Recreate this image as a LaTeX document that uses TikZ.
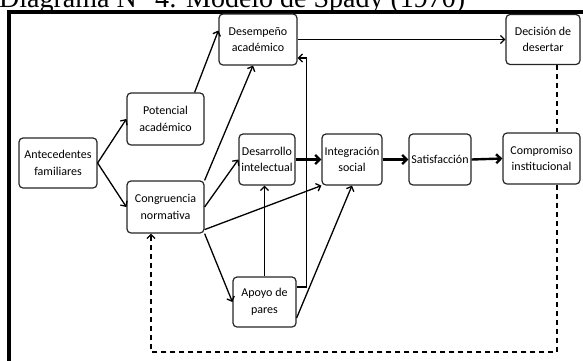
\documentclass[tikz,border=0pt]{standalone}
\usepackage{fontspec}
\setmainfont{Carlito}
\newfontfamily\titulo{Liberation Serif}
\usepackage{tikz}
\usetikzlibrary{positioning, arrows.meta}

\begin{document}
\begin{tikzpicture}[x=1pt, y=-1pt,
    caja/.style={rectangle, rounded corners=4pt, draw=black!85, line width=1.2pt, fill=white, align=center, inner sep=2pt, font={\fontsize{12}{16.5}\selectfont}},
    flecha/.style={-{Straight Barb[length=4pt,width=8pt]}, line width=1.3pt},
    gruesa/.style={-{Straight Barb[length=4.5pt,width=9pt]}, line width=2.4pt},
    discont/.style={line width=1.3pt, dash pattern=on 5pt off 4pt},
    ]
    \useasboundingbox (0,0) rectangle (583,360);
    \clip (0,0) rectangle (583,360);

    %Title and frame
    \node[anchor=base west, inner sep=0pt, font={\titulo\fontsize{28}{32}\selectfont}] (titulo) at (-1,7) {Diagrama N° 4: Modelo de Spady (1970)};
    \draw[line width=4pt] (9,380) -- (9,11.5) -- (600,11.5);

    %Nodes
    \node[caja, minimum width=78pt, minimum height=50pt] (ante) at (58,163) {Antecedentes\\familiares};
    \node[caja, minimum width=77pt, minimum height=52pt] (pot) at (165.5,119) {Potencial\\académico};
    \node[caja, minimum width=77pt, minimum height=52pt] (cong) at (165.5,207) {Congruencia\\normativa};
    \node[caja, minimum width=78pt, minimum height=51pt] (desem) at (258,39.5) {Desempeño\\académico};
    \node[caja, minimum width=56pt, minimum height=51pt, inner sep=1pt] (desar) at (267,159.5) {Desarrollo\\intelectual};
    \node[caja, minimum width=60pt, minimum height=51pt, inner sep=1pt] (integ) at (352,159.5) {Integración\\social};
    \node[caja, minimum width=62pt, minimum height=51pt, inner sep=1pt] (satis) at (440,159.5) {Satisfacción};
    \node[caja, minimum width=77pt, minimum height=51pt] (comp) at (541.5,158.5) {Compromiso\\institucional};
    \node[caja, minimum width=74pt, minimum height=50pt] (decis) at (543,39.5) {Decisión de\\desertar};
    \node[caja, minimum width=63pt, minimum height=50pt] (apoyo) at (264.5,302) {Apoyo de\\pares};

    \coordinate (dx) at ([xshift=14pt]decis.south);
    \coordinate (retorno) at (557,352);

    %Connectors
    \draw[flecha] (ante.east)--(pot.west);
    \draw[flecha] (ante.east)--(cong.west);
    \draw[flecha] ([xshift=-10pt]pot.north east)--([yshift=9pt]desem.west);
    \draw[flecha] (cong.north east)--([xshift=-5pt]desem.south);
    \draw[flecha] (cong.east)--(desar.west);
    \draw[flecha] ([yshift=4pt]cong.south east)--(integ.south west);
    \draw[flecha] (cong.south east)--(apoyo.west);
    \draw[flecha] (apoyo.north)--(apoyo.north |- desar.south);
    \draw[flecha] ([yshift=15pt]apoyo.east)--++(10,0) |- ([yshift=-18.5pt]desem.east);
    \draw[flecha] ([yshift=-16pt]apoyo.east)--(integ.south);
    \draw[flecha] (desem.east)--(decis.west);
    \draw[gruesa] (desar.east)--(integ.west);
    \draw[gruesa] (integ.east)--(satis.west);
    \draw[gruesa] (satis.east)--(comp.west);
    \draw[discont] (dx)--(dx |- comp.north);
    \draw[discont, flecha] (dx |- comp.south)--(retorno) -| ([xshift=-14.5pt]cong.south);
\end{tikzpicture}
\end{document}
